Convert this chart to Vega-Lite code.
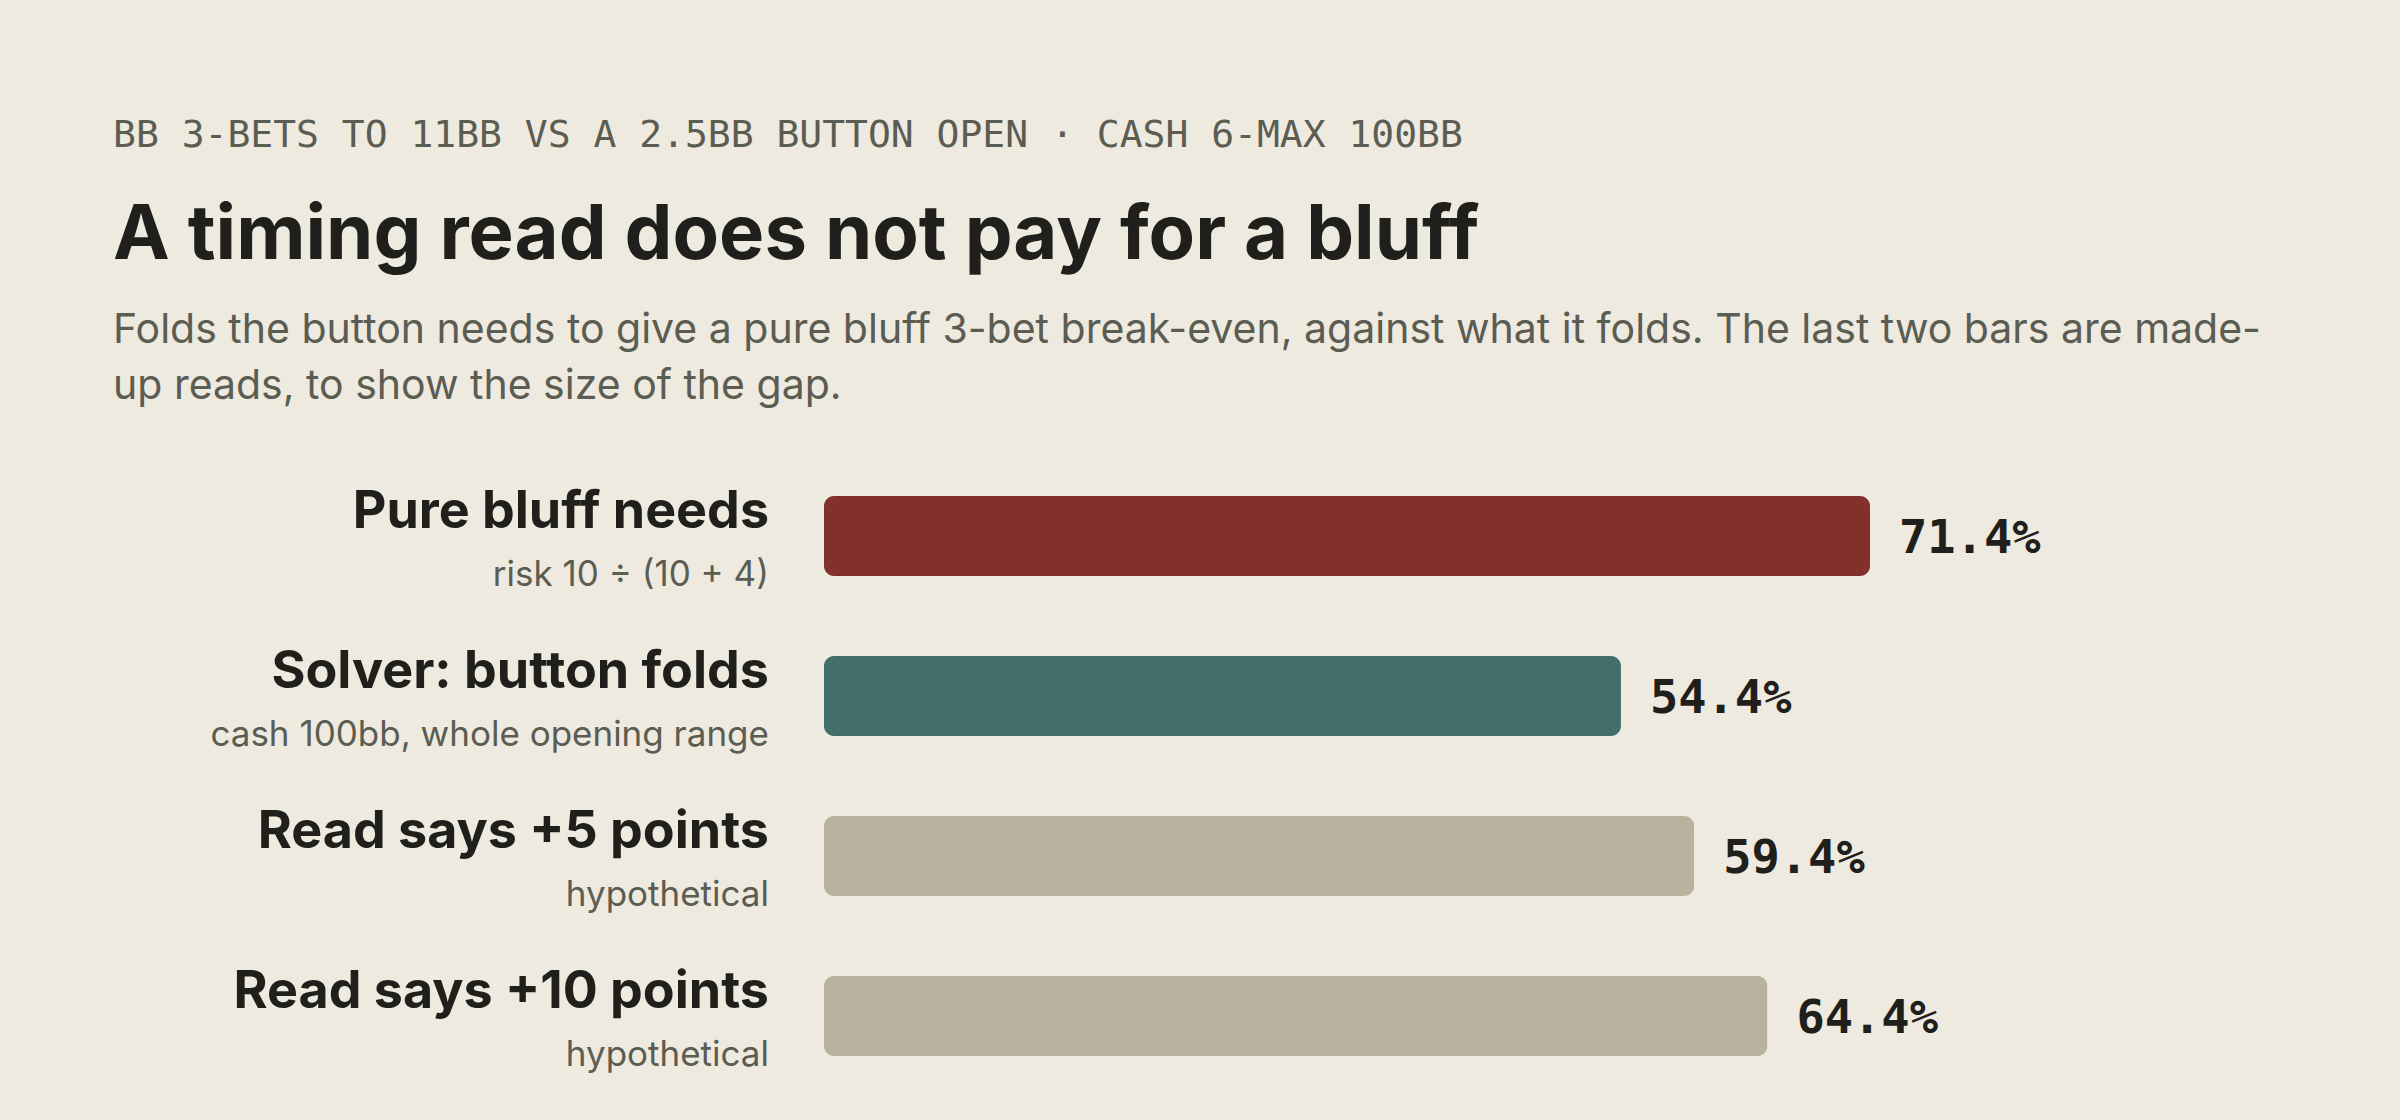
{
  "$schema": "https://vega.github.io/schema/vega-lite/v6.json",
  "background": "#eeeae0",
  "padding": {"left": 113, "top": 117, "right": 120, "bottom": 40},
  "title": {
    "text": "BB 3-BETS TO 11BB VS A 2.5BB BUTTON OPEN · CASH 6-MAX 100BB",
    "anchor": "start",
    "frame": "bounds",
    "font": "DejaVu Sans Mono",
    "fontSize": 38,
    "fontWeight": "normal",
    "color": "#5b5c52",
    "offset": 43
  },
  "config": {
    "view": {"stroke": null},
    "font": "Inter"
  },
  "vconcat": [
    {
      "width": 1465,
      "height": 640,
      "title": {
        "text": "A timing read does not pay for a bluff",
        "subtitle": [
          "Folds the button needs to give a pure bluff 3-bet break-even, against what it folds. The last two bars are made-",
          "up reads, to show the size of the gap."
        ],
        "anchor": "start",
        "frame": "group",
        "dx": -711,
        "font": "Inter",
        "fontSize": 76,
        "fontWeight": "bold",
        "color": "#1f201b",
        "subtitleFont": "Inter",
        "subtitleFontSize": 41,
        "subtitleColor": "#5b5c52",
        "subtitleLineHeight": 56,
        "subtitlePadding": 36,
        "offset": 48
      },
      "data": {
        "values": [
          {"label": "Pure bluff needs", "note": "risk 10 ÷ (10 + 4)", "value": 0.714, "kind": "needed"},
          {"label": "Solver: button folds", "note": "cash 100bb, whole opening range", "value": 0.544, "kind": "solver"},
          {"label": "Read says +5 points", "note": "hypothetical", "value": 0.594, "kind": "read"},
          {"label": "Read says +10 points", "note": "hypothetical", "value": 0.644, "kind": "read2"}
        ]
      },
      "encoding": {
        "y": {
          "field": "label",
          "type": "nominal",
          "sort": null,
          "axis": null,
          "scale": {"paddingInner": 0.5, "paddingOuter": 0.25}
        }
      },
      "layer": [
        {
          "mark": {"type": "bar", "cornerRadius": 10},
          "encoding": {
            "x": {"field": "value", "type": "quantitative", "axis": null, "scale": {"domain": [0, 1]}},
            "color": {
              "field": "kind",
              "type": "nominal",
              "legend": null,
              "scale": {
                "domain": ["needed", "solver", "read", "read2"],
                "range": ["#81312a", "#426f6b", "#b9b29e", "#b9b29e"]
              }
            }
          }
        },
        {
          "mark": {"type": "text", "align": "left", "baseline": "middle", "dx": 29, "dy": 3, "font": "DejaVu Sans Mono", "fontWeight": "bold", "fontSize": 47, "color": "#1f201b"},
          "encoding": {
            "x": {"field": "value", "type": "quantitative"},
            "text": {"field": "value", "type": "quantitative", "format": ".1%"}
          }
        },
        {
          "mark": {"type": "text", "align": "right", "baseline": "alphabetic", "dx": -55, "dy": -8, "font": "Inter", "fontWeight": "bold", "fontSize": 52, "letterSpacing": -0.8, "color": "#1f201b"},
          "encoding": {
            "x": {"datum": 0, "type": "quantitative"},
            "text": {"field": "label", "type": "nominal"}
          }
        },
        {
          "mark": {"type": "text", "align": "right", "baseline": "alphabetic", "dx": -55, "dy": 50, "font": "Inter", "fontSize": 35, "color": "#5b5c52"},
          "encoding": {
            "x": {"datum": 0, "type": "quantitative"},
            "text": {"field": "note", "type": "nominal"}
          }
        }
      ]
    }
  ]
}
